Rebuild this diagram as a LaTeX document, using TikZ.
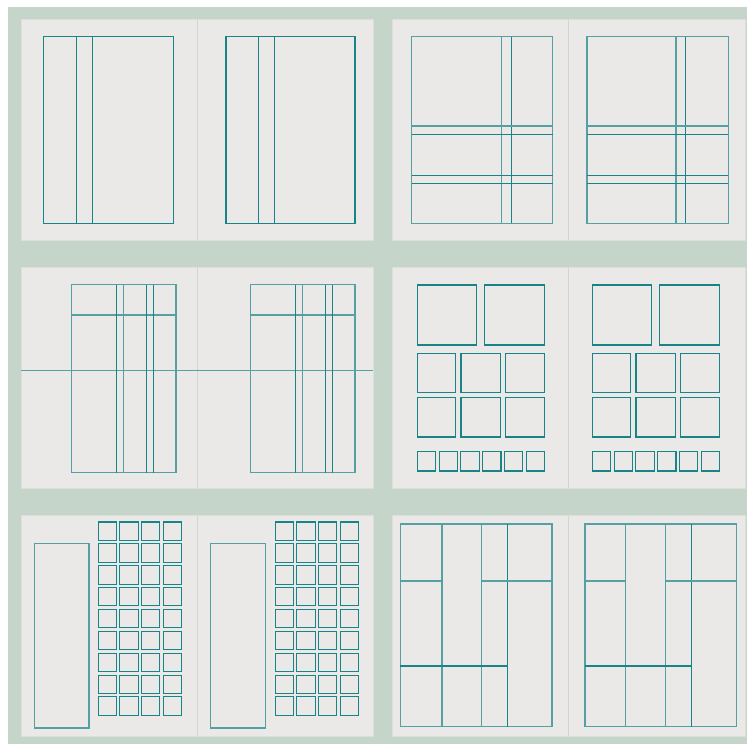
\documentclass[tikz,border=0pt]{standalone}
\definecolor{bggreen}{RGB}{197,213,201}
\definecolor{pagegrey}{RGB}{234,233,231}
\definecolor{pageedge}{RGB}{222,222,219}
\definecolor{spine}{RGB}{212,212,209}
\definecolor{tealc}{RGB}{24,132,136}
\definecolor{teall}{RGB}{84,160,162}
\tikzset{
  pg/.style={fill=pagegrey,draw=pageedge,line width=0.8pt},
  spineline/.style={draw=spine,line width=1pt},
  gl/.style={draw=tealc,line width=1.05pt},
  gll/.style={draw=teall,line width=1.2pt}
}
\begin{document}
\begin{tikzpicture}[x=1pt,y=-1pt]
\useasboundingbox (0,0) rectangle (747,744);
\fill[white] (0,0) rectangle (747,744);
\fill[bggreen] (8,7) rectangle (747,744);
% pages
\foreach \yy/\hh in {19/240,267.3/488.3,515.7/736.7}{
  \draw[pg] (21,\yy) rectangle (197.5,\hh);
  \draw[pg] (197.5,\yy) rectangle (373,\hh);
  \draw[spineline] (197.5,\yy) -- (197.5,\hh);
  \draw[pg] (392.3,\yy) rectangle (568.8,\hh);
  \draw[pg] (568.8,\yy) rectangle (745,\hh);
  \draw[spineline] (568.8,\yy) -- (568.8,\hh);
}
% ---- spread 1
\draw[gl] (43.3,36.7) rectangle (173.3,223.3);
\draw[gl] (76.7,36.7) -- (76.7,223.3);
\draw[gl] (92.7,36.7) -- (92.7,223.3);
\draw[gl] (225.7,36.7) rectangle (355,223.3);
\draw[gl] (226.6,36.7) -- (226.6,223.3);
\draw[gl] (258.3,36.7) -- (258.3,223.3);
\draw[gl] (274.3,36.7) -- (274.3,223.3);
% ---- spread 2
\foreach \xa/\xb/\va/\vb in {411.7/552.7/501.7/511.3, 587/728.3/676/685.3}{
  \draw[gll] (\xa,36.7) rectangle (\xb,223.3);
  \draw[gll] (\va,36.7) -- (\va,223.3);
  \draw[gl] (\vb,36.7) -- (\vb,223.3);
  \draw[gll] (\xa,126) -- (\xb,126);
  \draw[gl] (\xa,134.3) -- (\xb,134.3);
  \draw[gl] (\xa,175.3) -- (\xb,175.3);
  \draw[gl] (\xa,183.3) -- (\xb,183.3);
}
% ---- spread 3
\draw[gll] (21,370.7) -- (373,370.7);
\foreach \xa/\xb/\va/\vb/\vc/\vd in {71.7/176/116.3/123.7/146.7/153.3, 250.7/355/295.3/302.7/325.7/332.3}{
  \draw[gll] (\xa,284.7) rectangle (\xb,472.7);
  \draw[gll] (\xa,315) -- (\xb,315);
  \draw[gl] (\va,284.7) -- (\va,472.7);
  \draw[gll] (\vb,284.7) -- (\vb,472.7);
  \draw[gl] (\vc,284.7) -- (\vc,472.7);
  \draw[gl] (\vd,284.7) -- (\vd,472.7);
}
% ---- spread 4
\foreach \ox in {0,175}{
  \begin{scope}[xshift=\ox]
  \draw[gl] (417.3,285) rectangle (476.7,345);
  \draw[gl] (484.7,285) rectangle (544.7,345);
  \foreach \ya/\yb in {353.3/392.3,397.7/437}{
    \draw[gl] (417.3,\ya) rectangle (455.7,\yb);
    \draw[gl] (461,\ya) rectangle (500.3,\yb);
    \draw[gl] (505.3,\ya) rectangle (544.7,\yb);
  }
  \foreach \i in {0,...,5}{
    \draw[gl] (417.3+\i*21.8,451.7) rectangle ++(18.3,19.3);
  }
  \end{scope}
}
% ---- spread 5
\draw[gll] (34.7,543.3) rectangle (89,728);
\draw[gll] (210.7,543.3) rectangle (265.3,728);
\foreach \gx in {98.3,275.3}{
  \foreach \c in {0,...,3}{
    \foreach \r in {0,...,8}{
      \draw[gl] (\gx+\c*21.6,522+\r*21.87) rectangle ++(18.3,18.3);
    }
  }
}
% ---- spread 6
\foreach \xa/\xb/\va/\vb/\vc in {400.3/552/442/481.7/507.3, 585/736.7/625.7/665.3/691.3}{
  \draw[gll] (\xa,524) rectangle (\xb,726.7);
  \draw[gll] (\va,524) -- (\va,726.7);
  \draw[gll] (\vb,524) -- (\vb,726.7);
  \draw[gl] (\vc,524) -- (\vc,726.7);
  \draw[gll] (\xa,581) -- (\va,581);
  \draw[gll] (\vb,581) -- (\xb,581);
  \draw[gl] (\xa,666) -- (\vc,666);
}
\end{tikzpicture}
\end{document}
